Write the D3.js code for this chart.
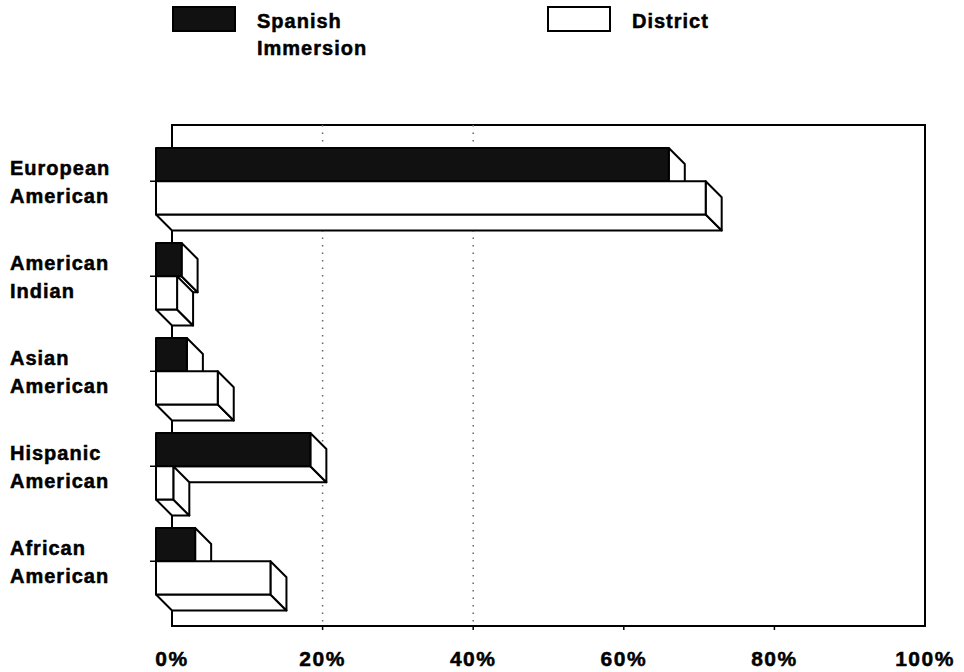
<!DOCTYPE html>
<html>
<head>
<meta charset="utf-8">
<script src="https://cdn.jsdelivr.net/npm/d3@7/dist/d3.min.js"></script>
<style>
  body { margin: 0; background: #fff; }
  svg { display: block; }
  text { font-family: "Liberation Sans", Arial, sans-serif; font-weight: bold; fill: #000; stroke: #000; stroke-width: 0.5px; }
</style>
</head>
<body>
<svg id="chart" width="964" height="672"></svg>
<script>
// Share of students by ethnic group (%)
const categories = ["European American", "American Indian", "Asian American", "Hispanic American", "African American"];
const seriesNames = ["Spanish Immersion", "District"];
const spanishImmersion = [68.1, 3.4, 4.1, 20.5, 5.2];
const district = [73.0, 2.8, 8.2, 2.3, 15.2];
const xTicks = [0, 20, 40, 60, 80, 100];
const gridTicks = [20, 40];

const seriesValues = [spanishImmersion, district];
const seriesFill = ["#111", "#fff"];

const depth = 16;                       // 3-D offset of the back wall from the bar fronts
const wall = { left: 172, right: 925, top: 125, bottom: 626 };

const svg = d3.select("#chart");

const x = d3.scaleLinear().domain([0, 100]).range([wall.left, wall.right]);
const y = d3.scaleBand().domain(categories).range([148, 594.5]).paddingInner(0.3).paddingOuter(0);
const sub = d3.scaleBand().domain(seriesNames).range([0, y.bandwidth()]);

// back wall frame
svg.append("rect")
  .attr("x", wall.left).attr("y", wall.top)
  .attr("width", wall.right - wall.left).attr("height", wall.bottom - wall.top)
  .attr("fill", "none").attr("stroke", "#000").attr("stroke-width", 2);

// dotted gridlines on the back wall
svg.append("g").selectAll("line").data(gridTicks).join("line")
  .attr("x1", d => x(d)).attr("x2", d => x(d))
  .attr("y1", wall.top).attr("y2", wall.bottom)
  .attr("stroke", "#666").attr("stroke-width", 1.5)
  .attr("stroke-dasharray", "1.5,6");

// tick marks under the floor line
svg.append("g").selectAll("line").data(xTicks.slice(1, -1)).join("line")
  .attr("x1", d => x(d)).attr("x2", d => x(d))
  .attr("y1", wall.bottom).attr("y2", wall.bottom + 4)
  .attr("stroke", "#000").attr("stroke-width", 1.5);

// x-axis labels
svg.append("g").selectAll("text").data(xTicks).join("text")
  .attr("x", d => x(d)).attr("y", 666)
  .attr("text-anchor", "middle")
  .attr("font-size", 21).attr("letter-spacing", 1.5)
  .text(d => d + "%");

// 3-D bars: front face, right end cap and underside
const bars = svg.append("g");
categories.forEach((cat, i) => {
  const yc = y(cat) + y.bandwidth() / 2;
  bars.append("line")
    .attr("x1", x(0) - depth - 6).attr("x2", x(0) - depth)
    .attr("y1", yc).attr("y2", yc)
    .attr("stroke", "#000").attr("stroke-width", 1.5);

  seriesNames.forEach((s, j) => {
    const v = seriesValues[j][i];
    const x0 = x(0) - depth, x1 = x(v) - depth;
    const y0 = y(cat) + sub(s), h = sub.bandwidth();
    const g = bars.append("g")
      .attr("stroke", "#000").attr("stroke-width", 2).attr("stroke-linejoin", "round");
    g.append("polygon")
      .attr("points", [[x0, y0 + h], [x1, y0 + h], [x1 + depth, y0 + h + depth], [x0 + depth, y0 + h + depth]].join(" "))
      .attr("fill", "#fff");
    g.append("polygon")
      .attr("points", [[x1, y0], [x1 + depth, y0 + depth], [x1 + depth, y0 + h + depth], [x1, y0 + h]].join(" "))
      .attr("fill", "#fff");
    g.append("rect")
      .attr("x", x0).attr("y", y0).attr("width", x1 - x0).attr("height", h)
      .attr("fill", seriesFill[j]);
  });
});

// category labels, two lines each
svg.append("g").selectAll("text").data(categories).join("text")
  .attr("font-size", 20).attr("letter-spacing", 1)
  .each(function (d) {
    const yc = y(d) + y.bandwidth() / 2;
    const words = d.split(" ");
    d3.select(this).selectAll("tspan").data(words).join("tspan")
      .attr("x", 10)
      .attr("y", (w, k) => yc - 6 + k * 28)
      .text(w => w);
  });

// legend
const legend = svg.append("g");
const legendX = [173, 548];
seriesNames.forEach((s, j) => {
  legend.append("rect")
    .attr("x", legendX[j]).attr("y", 7).attr("width", 62).attr("height", 24)
    .attr("fill", seriesFill[j]).attr("stroke", "#000").attr("stroke-width", 2);
  const words = j === 0 ? s.split(" ") : [s];
  const t = legend.append("text").attr("font-size", 20).attr("letter-spacing", 1);
  t.selectAll("tspan").data(words).join("tspan")
    .attr("x", legendX[j] + 84)
    .attr("y", (w, k) => 28 + k * 27)
    .text(w => w);
});
</script>
</body>
</html>
